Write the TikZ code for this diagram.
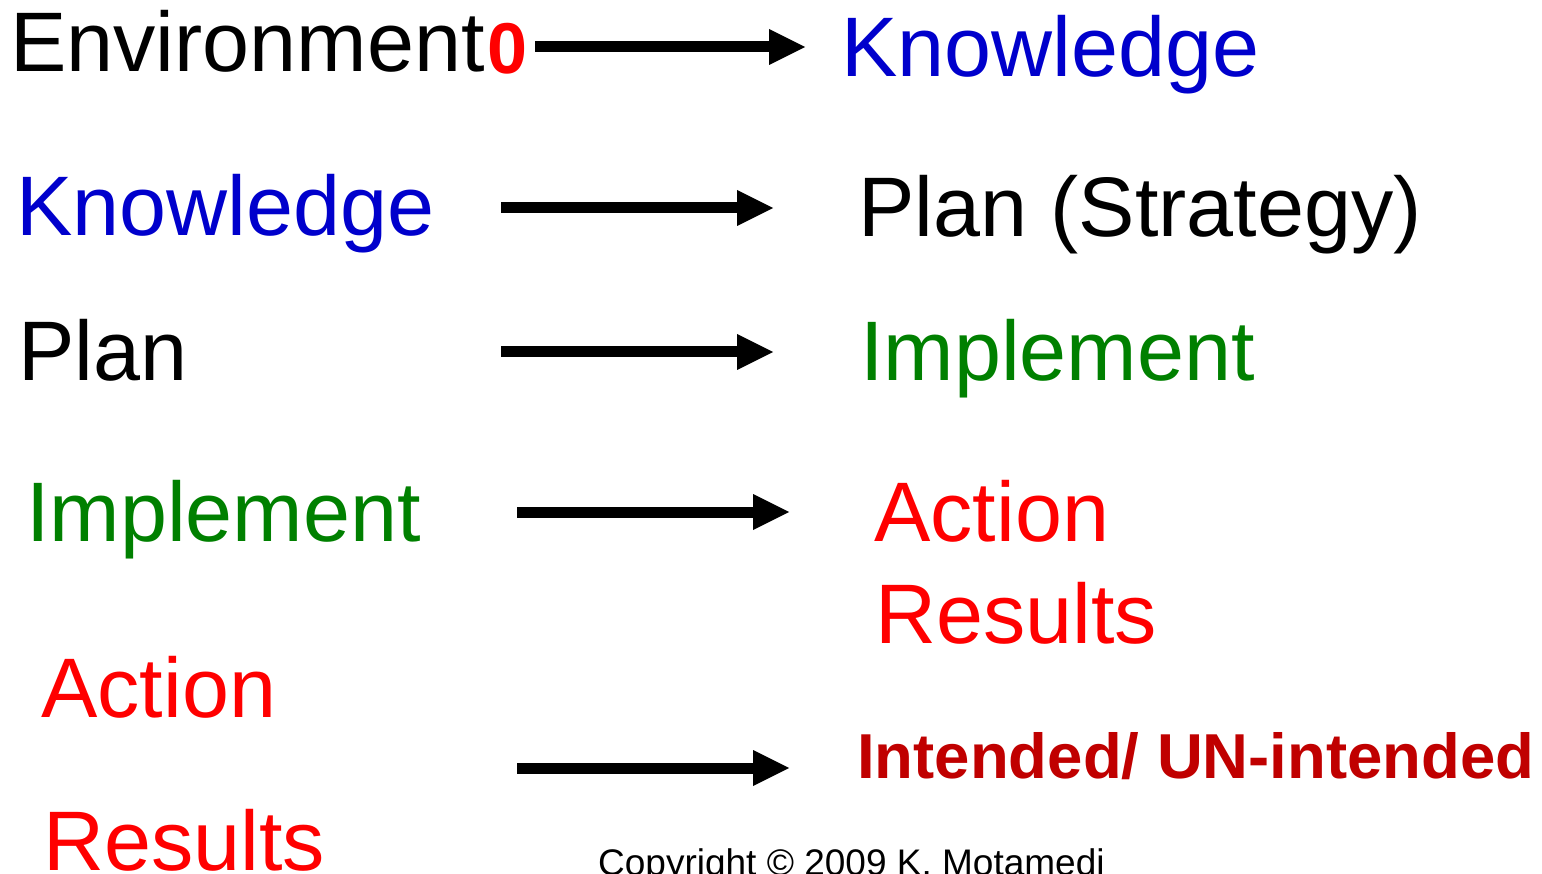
\documentclass[tikz,border=0pt]{standalone}
\usepackage{fontspec}
\setmainfont{Liberation Sans}
\usetikzlibrary{arrows.meta}
\definecolor{kblue}{RGB}{0,0,204}
\definecolor{kgreen}{RGB}{0,128,0}
\definecolor{kred}{RGB}{255,0,0}
\definecolor{kdark}{RGB}{192,0,0}
\tikzset{
  big/.style={anchor=base west, inner sep=0pt, font=\fontsize{84.5}{90}\selectfont},
  arr/.style={line width=11pt, -{Triangle[length=36pt,width=36pt,line width=0pt]}}
}
\begin{document}
\begin{tikzpicture}[x=1pt,y=-1pt]
\useasboundingbox (0,0) rectangle (1542,874);
% texts
\node[big] (env) at (10,72) {Environment};
\node[anchor=base west, inner sep=0pt, text=kred, font=\fontsize{72}{76}\selectfont\bfseries] (zero) at (487,74) {0};
\node[big, text=kblue] (know1) at (841,77) {Knowledge};
\node[big, text=kblue] (know2) at (16,236) {Knowledge};
\node[big] (plans) at (858,237) {Plan (Strategy)};
\node[big] (plan) at (18,381) {Plan};
\node[big, text=kgreen] (impl1) at (860,381) {Implement};
\node[big, text=kgreen] (impl2) at (26,541) {Implement};
\node[big, text=kred] (act1) at (874,541) {Action};
\node[big, text=kred] (res1) at (875,643) {Results};
\node[big, text=kred] (act2) at (41,717) {Action};
\node[big, text=kred] (res2) at (43,870) {Results};
\node[anchor=base west, inner sep=0pt, text=kdark, font=\fontsize{63.5}{66}\selectfont\bfseries] (intend) at (857,778) {Intended/ UN-intended};
\node[anchor=base west, inner sep=0pt, font=\fontsize{37}{40}\selectfont] (copy) at (598,875) {Copyright © 2009 K. Motamedi};
% arrow ends
\coordinate (a1s) at (535,47); \coordinate (a1e) at (805,47);
\coordinate (a2s) at (501,208); \coordinate (a2e) at (773,208);
\coordinate (a3s) at (501,352); \coordinate (a3e) at (773,352);
\coordinate (a4s) at (517,512); \coordinate (a4e) at (789,512);
\coordinate (a5s) at (517,768); \coordinate (a5e) at (789,768);
\draw[arr] (a1s) -- (a1e);
\draw[arr] (a2s) -- (a2e);
\draw[arr] (a3s) -- (a3e);
\draw[arr] (a4s) -- (a4e);
\draw[arr] (a5s) -- (a5e);
\end{tikzpicture}
\end{document}
